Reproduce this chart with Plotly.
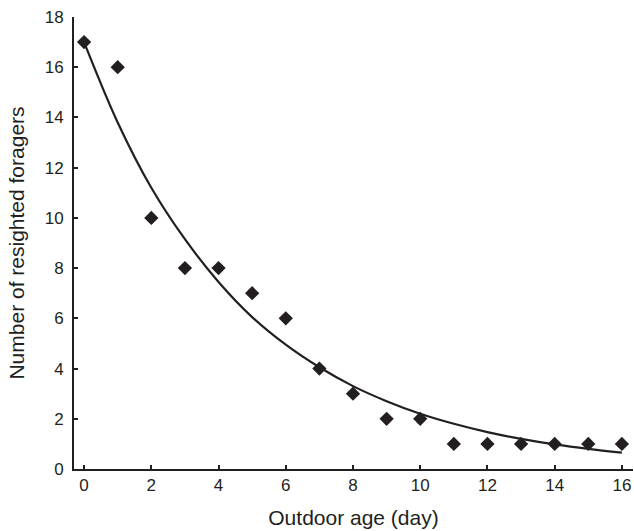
import plotly.graph_objects as go

days = list(range(17))
foragers = [17, 16, 10, 8, 8, 7, 6, 4, 3, 2, 2, 1, 1, 1, 1, 1, 1]
fit_values = [17.0, 13.8, 11.2, 9.15, 7.45, 6.05, 4.95, 4.05, 3.3, 2.7, 2.2, 1.8, 1.47, 1.2, 0.98, 0.8, 0.65]

dark = "#231f20"
font_family = "Liberation Sans, Arial"
fig = go.Figure()
fig.add_trace(go.Scatter(x=days, y=fit_values, mode="lines", line=dict(color=dark, width=2.2, shape="spline"),
                         showlegend=False, hoverinfo="skip"))
fig.add_trace(go.Scatter(x=days, y=foragers, mode="markers",
                         marker=dict(symbol="diamond", size=11, color=dark), showlegend=False))

axis_common = dict(showgrid=False, zeroline=False, showline=True, linecolor=dark, linewidth=2,
                   ticks="inside", ticklen=4, tickwidth=2, tickcolor=dark,
                   tickfont=dict(family=font_family, size=17, color=dark))
fig.update_xaxes(range=[-0.3, 16.33], tickmode="array", tickvals=list(range(0, 17, 2)),
                 title=dict(text="Outdoor age (day)", font=dict(family=font_family, size=21, color=dark), standoff=16),
                 **axis_common)
fig.update_yaxes(range=[0, 18], tickmode="array", tickvals=list(range(0, 19, 2)), ticklabelstandoff=5,
                 title=dict(text="Number of resighted foragers", font=dict(family=font_family, size=21, color=dark), standoff=14),
                 **axis_common)
fig.update_layout(width=634, height=531, margin=dict(l=74, r=1, t=17, b=62),
                  plot_bgcolor="white", paper_bgcolor="white")
fig.write_html("out.html")
